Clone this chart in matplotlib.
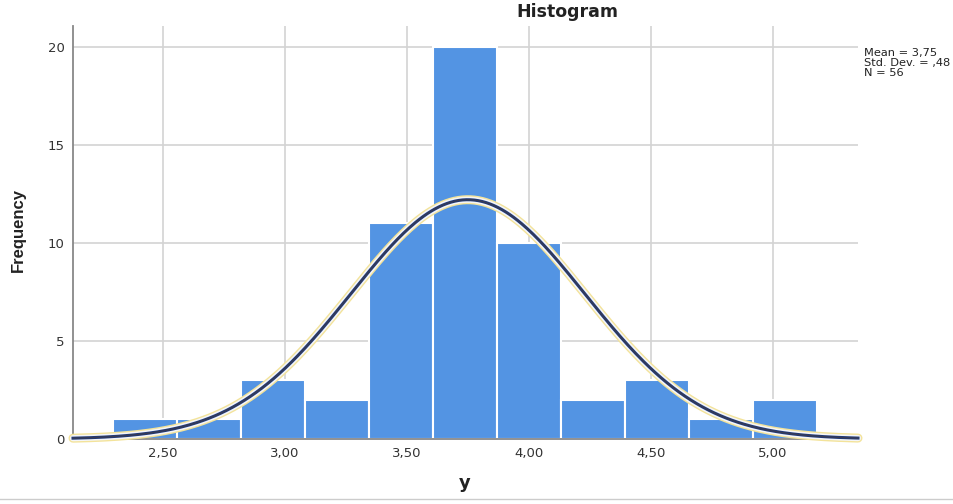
import numpy as np
import matplotlib
matplotlib.use("Agg")
import matplotlib.pyplot as plt

plt.rcParams['font.family'] = ['DejaVu Sans']

# histogram counts
counts = [1, 1, 3, 2, 11, 20, 10, 2, 3, 1, 2]
bin_start = 2.295
bin_width = 0.2623
mean = 3.75
std = 0.48
n_total = 56
x_ticks = [2.5, 3.0, 3.5, 4.0, 4.5, 5.0]
x_labels = ["2,50", "3,00", "3,50", "4,00", "4,50", "5,00"]
y_ticks = [0, 5, 10, 15, 20]

bar_color = "#5394e3"
grid_color = "#d3d3d3"

fig = plt.figure(figsize=(9.54, 5.04), dpi=100)
ax = fig.add_axes([73/954, 1-439/504, (858-73)/954, (439-26)/504])

edges = bin_start + bin_width*np.arange(len(counts)+1)
ax.bar(edges[:-1], counts, width=bin_width, align='edge',
       color=bar_color, edgecolor='white', linewidth=1.5, zorder=2)

# normal curve
xmin, xmax = 2.131, 5.35
xs = np.linspace(xmin, xmax, 400)
ys = n_total*bin_width/(std*np.sqrt(2*np.pi))*np.exp(-0.5*((xs-mean)/std)**2)
ax.plot(xs, ys, color='#f3e39a', lw=6.5, solid_capstyle='round', zorder=3, clip_on=False)
ax.plot(xs, ys, color='#f4f5f8', lw=4.5, solid_capstyle='round', zorder=4, clip_on=False)
ax.plot(xs, ys, color='#1f3a7a', lw=2.2, zorder=5, clip_on=False)
ax.plot(xs, ys, color='#3a3a50', lw=0.9, zorder=6, clip_on=False)

ax.set_xlim(xmin, xmax)
ax.set_ylim(0, 21.07)
ax.set_xticks(x_ticks)
ax.set_xticklabels(x_labels)
ax.set_yticks(y_ticks)
ax.tick_params(length=0, labelsize=9.5, colors='#333333', pad=6)
ax.grid(True, color=grid_color, linewidth=1.2, zorder=0)
ax.set_axisbelow(True)
for s in ['top', 'right']:
    ax.spines[s].set_visible(False)
for s in ['left', 'bottom']:
    ax.spines[s].set_color('#888888')
    ax.spines[s].set_linewidth(1.3)

fig.text(567/954, 1-12/504, "Histogram", ha='center', va='center',
         fontsize=12.5, fontweight='bold', color='#222222')
fig.text(18/954, 1-230/504, "Frequency", rotation=90, ha='center', va='center',
         fontsize=12, fontweight='bold', color='#222222',
         family=['Liberation Sans Narrow', 'Liberation Sans'])
fig.text(465/954, 1-483/504, "y", ha='center', va='center',
         fontsize=13, fontweight='bold', color='#222222')
fig.text(864/954, 1-63/504, "Mean = 3,75\nStd. Dev. = ,48\nN = 56",
         ha='left', va='center', fontsize=8.2, linespacing=1.05, color='#222222')

fig.add_artist(plt.Line2D([0, 1], [1-499/504, 1-499/504], color='#cccccc', lw=1))

fig.savefig("out.png", dpi=100)
